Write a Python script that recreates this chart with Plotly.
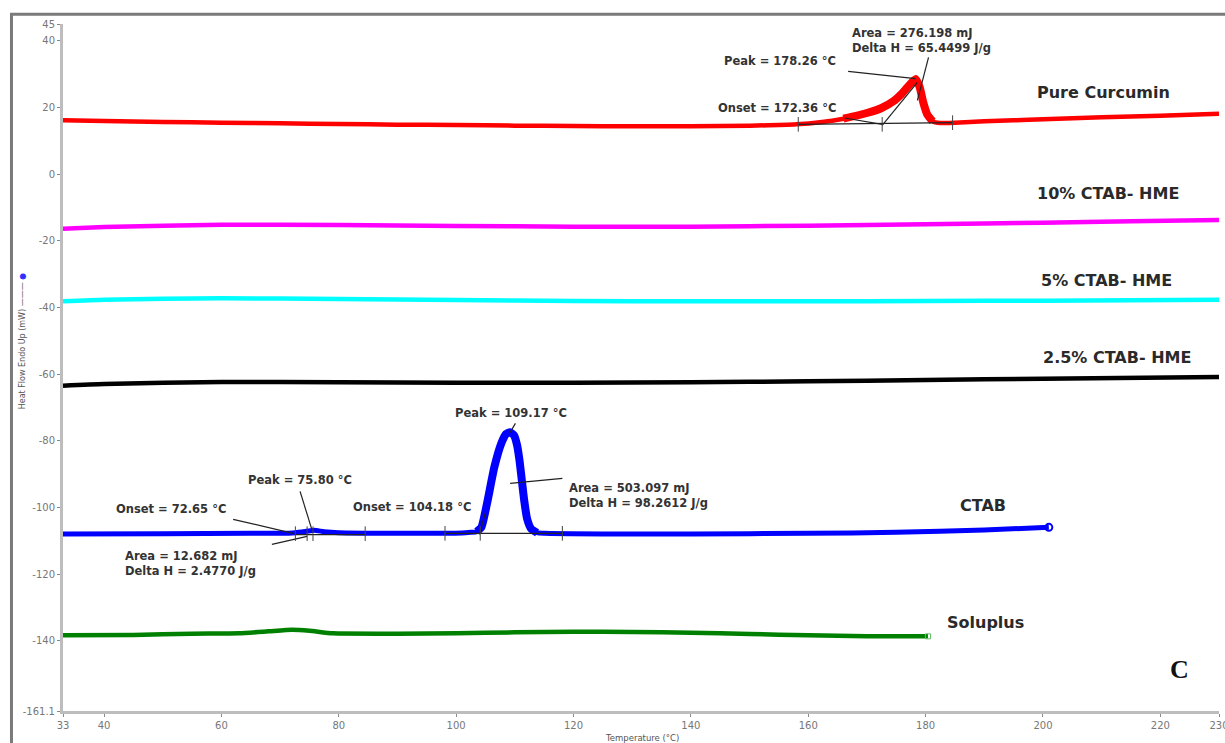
import plotly.graph_objects as go

# ---------------- data ----------------
T_CURCUMIN = [33, 40, 50, 60, 70, 80, 90, 100, 110, 120, 130, 140, 150, 158, 162, 166, 170,
              172.5, 174.5, 176, 177.2, 178.3, 179.0, 179.6, 180.3, 181.2, 182.5, 185, 190,
              195, 200, 210, 220, 230]
Y_CURCUMIN = [16.1, 15.9, 15.6, 15.4, 15.2, 15.0, 14.8, 14.7, 14.5, 14.4, 14.3, 14.3, 14.5,
              14.9, 15.5, 16.6, 18.3, 19.8, 21.8, 24.2, 26.6, 28.5, 26.0, 21.5, 17.8, 15.8,
              15.3, 15.4, 15.8, 16.1, 16.4, 17.0, 17.5, 18.1]

T_CTAB10 = [33, 40, 60, 80, 100, 120, 140, 160, 180, 200, 215, 230]
Y_CTAB10 = [-16.4, -15.9, -15.2, -15.3, -15.6, -15.8, -15.8, -15.5, -15.1, -14.6, -14.2, -13.8]

T_CTAB5 = [33, 40, 60, 80, 100, 120, 140, 160, 180, 200, 230]
Y_CTAB5 = [-38.2, -37.7, -37.3, -37.5, -37.8, -38.1, -38.2, -38.2, -38.1, -38.0, -37.7]

T_CTAB25 = [33, 40, 60, 80, 100, 120, 140, 160, 180, 200, 230]
Y_CTAB25 = [-63.5, -63.0, -62.4, -62.5, -62.6, -62.6, -62.5, -62.2, -61.8, -61.4, -60.9]

T_CTAB = [33, 50, 65, 70, 72.6, 74.5, 75.8, 77.5, 80, 90, 98, 101, 102.5, 103.5, 104.3,
          105.3, 106.5, 107.7, 108.5, 109.17, 109.9, 110.4, 110.8, 111.2, 111.6, 112.1,
          112.8, 113.8, 115, 125, 140, 160, 175, 190, 201]
Y_CTAB = [-108.0, -107.9, -107.8, -107.8, -107.6, -107.2, -106.9, -107.3, -107.6, -107.8,
          -107.8, -107.7, -107.5, -107.3, -106.0, -98.5, -88.0, -80.8, -78.0, -77.5, -78.5,
          -81.5, -86.0, -92.0, -98.0, -103.5, -106.5, -107.6, -107.8, -108.0, -108.0,
          -107.8, -107.5, -106.8, -106.0]

T_SOLUPLUS = [33, 45, 55, 63, 68, 72, 75, 79, 90, 100, 110, 120, 130, 140, 150, 160, 170, 180.4]
Y_SOLUPLUS = [-138.4, -138.3, -137.9, -137.8, -137.2, -136.7, -137.0, -137.8, -137.9, -137.8,
              -137.5, -137.3, -137.4, -137.6, -138.0, -138.4, -138.7, -138.7]

SERIES_NAMES = ["Pure Curcumin", "10% CTAB- HME", "5% CTAB- HME", "2.5% CTAB- HME", "CTAB", "Soluplus"]
SERIES_COLORS = ["#ff0000", "#ff00ff", "#00ffff", "#000000", "#0000ff", "#008000"]

X_TICKS = [33, 40, 60, 80, 100, 120, 140, 160, 180, 200, 220, 230]
Y_TICKS = [45, 40, 20, 0, -20, -40, -60, -80, -100, -120, -140, -161.1]
X_RANGE = [33, 230]
Y_RANGE = [-161.1, 45]

# DSC analysis results (text)
CUR_PEAK, CUR_ONSET = 178.26, 172.36
CTAB_PEAK1, CTAB_ONSET1 = 75.80, 72.65
CTAB_PEAK2, CTAB_ONSET2 = 109.17, 104.18

# integration limits (temperature, baseline level)
LIMITS = [(158.3, 14.9), (172.6, 14.9), (184.6, 15.4),
          (72.6, -107.9), (74.6, -107.9), (75.6, -107.9), (84.5, -107.9),
          (98.1, -107.8), (104.1, -107.8), (118.1, -107.8)]

# leader / tangent lines of the analysis
LEADERS = [
    ((158.3, 14.9), (184.6, 15.4)),
    ((172.6, 14.6), (178.6, 27.5)),
    ((166.2, 16.8), (172.6, 14.9)),
    ((166.8, 30.8), (CUR_PEAK, 28.6)),
    ((180.5, 35.0), (178.6, 22.1)),
    ((73.4, -95.2), (75.45, -106.9)),
    ((62.0, -103.6), (72.2, -107.8)),
    ((68.6, -111.1), (74.6, -108.7)),
    ((72.6, -108.2), (84.5, -108.2)),
    ((110.1, -74.8), (109.2, -77.5)),
    ((109.2, -92.8), (118.1, -91.3)),
    ((98.1, -107.8), (118.1, -107.8)),
    ((104.0, -107.8), (105.0, -101.5)),
]

TEXTS = [
    (f"Peak = {CUR_PEAK:.2f} °C", 155.2, 33.8, "center"),
    ("Area = 276.198 mJ<br>Delta H = 65.4499 J/g", 167.2, 40.1, "left"),
    (f"Onset = {CUR_ONSET:.2f} °C", 154.6, 19.7, "center"),
    (f"Peak = {CTAB_PEAK2:.2f} °C", 109.4, -71.8, "center"),
    ("Area = 503.097 mJ<br>Delta H = 98.2612 J/g", 118.9, -96.4, "left"),
    (f"Onset = {CTAB_ONSET2:.2f} °C", 92.5, -100.0, "center"),
    (f"Peak = {CTAB_PEAK1:.2f} °C", 73.4, -91.9, "center"),
    (f"Onset = {CTAB_ONSET1:.2f} °C", 51.4, -100.6, "center"),
    ("Area = 12.682 mJ<br>Delta H = 2.4770 J/g", 43.2, -116.8, "left"),
]

LABEL_POS = [(210.4, 24.5), (211.0, -5.8), (210.8, -31.9), (212.7, -55.0), (189.8, -99.4), (190.2, -134.5)]

# ---------------- figure ----------------
fig = go.Figure()

series = [(T_CURCUMIN, Y_CURCUMIN), (T_CTAB10, Y_CTAB10), (T_CTAB5, Y_CTAB5),
          (T_CTAB25, Y_CTAB25), (T_CTAB, Y_CTAB), (T_SOLUPLUS, Y_SOLUPLUS)]
widths = [4.5, 4.5, 4.5, 4.5, 5, 4.5]

for (t, y), name, col, w in zip(series, SERIES_NAMES, SERIES_COLORS, widths):
    fig.add_trace(go.Scatter(x=t, y=y, mode="lines", name=name,
                             line=dict(color=col, width=w, shape="spline", smoothing=0.5),
                             showlegend=False, hoverinfo="skip"))

# thicker (dense-point) peak regions
def sub(t, y, lo, hi):
    pts = [(a, b) for a, b in zip(t, y) if lo <= a <= hi]
    return [p[0] for p in pts], [p[1] for p in pts]

for (t, y), col, lo, hi in [((T_CURCUMIN, Y_CURCUMIN), SERIES_COLORS[0], 166, 181.2),
                            ((T_CTAB, Y_CTAB), SERIES_COLORS[4], 103.5, 113.8)]:
    xs, ys = sub(t, y, lo, hi)
    fig.add_trace(go.Scatter(x=xs, y=ys, mode="lines",
                             line=dict(color=col, width=8, shape="spline", smoothing=0.5),
                             showlegend=False, hoverinfo="skip"))

# end markers for CTAB and Soluplus
fig.add_trace(go.Scatter(x=[T_CTAB[-1]], y=[Y_CTAB[-1]], mode="markers",
                         marker=dict(symbol="circle-open", size=7, color=SERIES_COLORS[4],
                                     line=dict(width=2)),
                         showlegend=False, hoverinfo="skip"))
fig.add_trace(go.Scatter(x=[T_SOLUPLUS[-1]], y=[Y_SOLUPLUS[-1]], mode="markers",
                         marker=dict(symbol="square-open", size=5, color="#5fbf5f",
                                     line=dict(width=1)),
                         showlegend=False, hoverinfo="skip"))

# leader lines
lx, ly = [], []
for (a, b) in LEADERS:
    lx += [a[0], b[0], None]
    ly += [a[1], b[1], None]
fig.add_trace(go.Scatter(x=lx, y=ly, mode="lines", line=dict(color="#222222", width=1.2),
                         showlegend=False, hoverinfo="skip"))

# integration limit ticks
tx, ty = [], []
for (t, yb) in LIMITS:
    tx += [t, t, None]
    ty += [yb - 2.2, yb + 2.2, None]
fig.add_trace(go.Scatter(x=tx, y=ty, mode="lines", line=dict(color="#444444", width=1),
                         showlegend=False, hoverinfo="skip"))

annotations = []
for text, x, y, al in TEXTS:
    annotations.append(dict(x=x, y=y, xref="x", yref="y", text=f"<b>{text}</b>",
                            showarrow=False, xanchor=al, yanchor="middle", align="left",
                            font=dict(family="DejaVu Sans", size=11.5, color="#333333")))

for name, (x, y) in zip(SERIES_NAMES, LABEL_POS):
    annotations.append(dict(x=x, y=y, xref="x", yref="y", text=f"<b>{name}</b>",
                            showarrow=False, xanchor="center", yanchor="middle",
                            font=dict(family="DejaVu Sans", size=16, color="#2a2a2a")))

annotations.append(dict(x=223.3, y=-148.5, xref="x", yref="y", text="<b>C</b>", showarrow=False,
                        xanchor="center", yanchor="middle",
                        font=dict(family="Liberation Serif", size=26, color="#111111")))

# axis titles
L, R, TOP, BOT = 63, 6.4, 23.5, 32
PW, PH = 1225 - L - R, 743 - TOP - BOT
annotations.append(dict(x=(642 - L) / PW, y=(743 - BOT - 738) / PH, xref="paper", yref="paper",
                        text="Temperature (°C)", showarrow=False, xanchor="center", yanchor="middle",
                        font=dict(family="DejaVu Sans", size=8.5, color="#555555")))
annotations.append(dict(x=(22 - L) / PW, y=(743 - BOT - 341) / PH, xref="paper", yref="paper",
                        text="Heat Flow Endo Up (mW) ——— <span style='color:#3030ff'>●</span>",
                        textangle=-90, showarrow=False, xanchor="center", yanchor="middle",
                        font=dict(family="DejaVu Sans", size=8, color="#555555")))

fig.update_layout(
    width=1225, height=743,
    margin=dict(l=L, r=R, t=TOP, b=BOT, pad=0, autoexpand=False),
    paper_bgcolor="white", plot_bgcolor="white",
    annotations=annotations,
    shapes=[dict(type="rect", xref="paper", yref="paper",
                 x0=(11.5 - L) / PW, x1=(1240 - L) / PW,
                 y0=(743 - BOT - 760) / PH, y1=(743 - BOT - 13.8) / PH,
                 line=dict(color="#7a7a7a", width=3), fillcolor="rgba(0,0,0,0)")],
    xaxis=dict(range=X_RANGE, tickvals=X_TICKS, ticktext=[str(v) for v in X_TICKS],
               showgrid=False, zeroline=False, showline=True, linecolor="#bdbdbd", linewidth=3,
               ticks="outside", ticklen=3, tickcolor="#888888", tickwidth=1,
               ticklabeloverflow="allow", automargin=False,
               tickfont=dict(family="DejaVu Sans", size=10, color="#777777")),
    yaxis=dict(range=Y_RANGE, tickvals=Y_TICKS, ticktext=[str(v) for v in Y_TICKS],
               showgrid=False, zeroline=False, showline=True, linecolor="#bdbdbd", linewidth=3,
               ticks="outside", ticklen=3, tickcolor="#888888", tickwidth=1,
               ticklabeloverflow="allow", automargin=False,
               tickfont=dict(family="DejaVu Sans", size=10, color="#777777")),
)

fig.write_html("out.html")
